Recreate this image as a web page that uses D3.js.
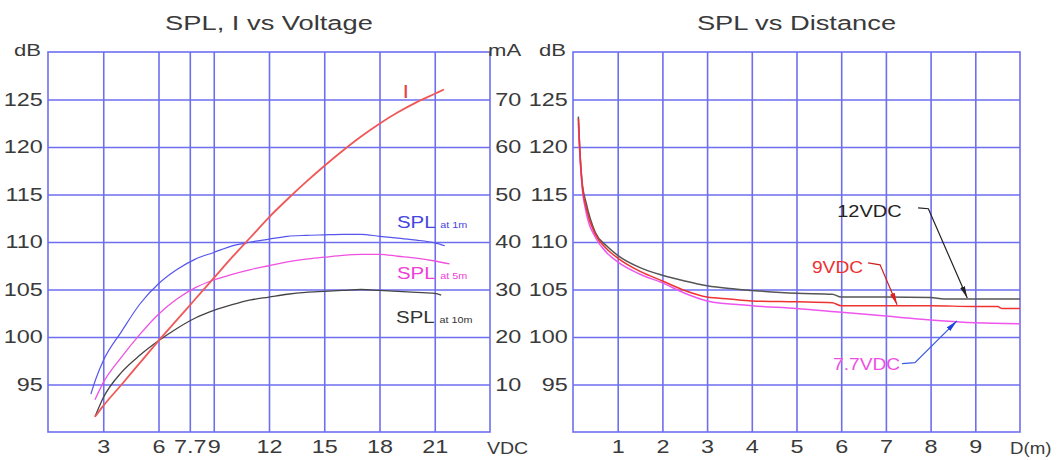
<!DOCTYPE html>
<html><head><meta charset="utf-8">
<script src="https://cdn.jsdelivr.net/npm/d3@7"></script>
<style>
body{margin:0;background:#fff;}
svg{display:block;}
text{font-family:"Liberation Sans",Arial,sans-serif;}
</style></head><body>
<svg id="c" width="1063" height="460"></svg>
<script>
// ---------- data ----------
const voltTicks = [3, 6, 7.7, 9, 12, 15, 18, 21];
const dbTicks = [95, 100, 105, 110, 115, 120, 125];
const maTicks = [10, 20, 30, 40, 50, 60, 70];
const distTicks = [1, 2, 3, 4, 5, 6, 7, 8, 9];

// SPL vs Voltage (V, dB)
const spl1m = [[2.33,94],[2.6,95.6],[3,97.5],[4,100.6],[5,103.5],[6,105.6],[7,107.1],[8,108.2],[9,108.9],[10,109.6],[11,110],[12,110.3],[13,110.6],[14,110.7],[15,110.75],[16,110.8],[17,110.8],[18,110.6],[19,110.4],[20,110.2],[21,109.9],[21.55,109.6]];
const spl5m = [[2.55,93.4],[3,95.2],[4,97.9],[5,100.3],[6,102.4],[7,104.0],[8,105.2],[9,106.0],[10,106.6],[11,107.1],[12,107.5],[13,107.9],[14,108.2],[15,108.4],[16,108.6],[17,108.7],[18,108.7],[19,108.5],[20,108.3],[21,108.0],[21.8,107.7]];
const spl10m = [[2.55,91.6],[3,93.6],[4,96.3],[5,98.1],[6,99.6],[7,100.9],[8,102],[9,102.8],[10,103.4],[11,103.9],[12,104.2],[13,104.5],[14,104.7],[15,104.8],[16,104.9],[17,105],[18,104.9],[19,104.8],[20,104.7],[21,104.6],[21.35,104.4]];
// Current vs Voltage (V, mA)
const currentMA = [[2.55,3.2],[3,5.5],[4,10],[5,14.6],[6,19.2],[7,23.6],[8,28],[9,32.4],[10,36.8],[11,41],[12,45.2],[13,49],[14,52.6],[15,56],[16,59.2],[17,62.2],[18,64.9],[19,67.3],[20,69.4],[21,71.2],[21.5,72.1]];

// SPL vs Distance (m, dB)
const dist12V = [[0.12,123.2],[0.15,120],[0.2,116.5],[0.3,114],[0.5,111],[0.75,109.6],[1,108.6],[1.5,107.3],[2,106.5],[2.5,105.9],[3,105.4],[3.5,105.1],[4,104.9],[5,104.6],[5.8,104.5],[6,104.2],[7,104.2],[8,104.15],[8.3,104],[9,104],[10,104]];
const dist9V = [[0.12,123],[0.15,119.8],[0.2,116.3],[0.3,113.5],[0.5,110.8],[0.75,109.3],[1,108.3],[1.5,106.9],[2,105.9],[2.5,104.9],[3,104.2],[3.5,104],[4,103.8],[5,103.7],[5.8,103.6],[6,103.3],[7,103.3],[8,103.3],[9,103.2],[9.5,103.2],[9.6,103],[10,103]];
const dist77V = [[0.12,122.5],[0.15,119.5],[0.2,116],[0.3,113],[0.5,110.5],[0.75,108.9],[1,107.9],[1.5,106.6],[2,105.7],[2.5,104.6],[3,103.8],[4,103.3],[5,103],[6,102.6],[7,102.2],[8,101.8],[9,101.5],[10,101.4]];

// ---------- layout ----------
const SX = 1.3;           // horizontal text stretch of the reference
const GRID = "#6e6ef0";
const TXT = "#3a3a3a";
const svg = d3.select("#c");

const xV = d3.scaleLinear([0, 24], [48, 490]);
const yL = d3.scaleLinear([90, 130], [432, 52]);
const yMA = d3.scaleLinear([0, 80], [432, 52]);
const xD = d3.scaleLinear([0, 10], [573, 1020]);
const yR = d3.scaleLinear([90, 130], [432, 52]);

function txt(x, y, s, o = {}) {
  const t = svg.append("text")
    .attr("transform", `translate(${x},${y}) scale(${o.sx || SX},1)`)
    .attr("text-anchor", o.anchor || "start")
    .style("font-size", (o.size || 18) + "px")
    .attr("fill", o.fill || TXT)
    .text(s);
  return t;
}

function styleAxis(g) {
  g.select(".domain").remove();
  g.selectAll(".tick line").attr("stroke", GRID).attr("stroke-width", 1.6);
  g.selectAll(".tick text").attr("fill", TXT)
    .style("font-size", "18px")
    .attr("transform", `scale(${SX},1)`);
}

function panel(x, y, xticks, xfmt) {
  const [x0, x1] = x.range();
  const [y0, y1] = y.range(); // y0 bottom
  const h = y0 - y1, w = x1 - x0;
  svg.append("g").attr("transform", `translate(0,${y0})`)
    .call(d3.axisBottom(x).tickValues(xticks).tickSize(-h).tickPadding(8).tickFormat(xfmt))
    .call(styleAxis);
  svg.append("g").attr("transform", `translate(${x0},0)`)
    .call(d3.axisLeft(y).tickValues(dbTicks).tickSize(-w).tickPadding(4))
    .call(styleAxis);
  svg.append("rect").attr("x", x0).attr("y", y1).attr("width", w).attr("height", h)
    .attr("fill", "none").attr("stroke", GRID).attr("stroke-width", 1.6);
}

// left panel
panel(xV, yL, voltTicks, d => String(d));
// right mA axis labels
svg.append("g").attr("transform", `translate(${xV.range()[1]},0)`)
  .call(d3.axisRight(yMA).tickValues(maTicks).tickSize(0).tickPadding(4))
  .call(styleAxis);
// right panel
panel(xD, yR, distTicks, d => String(d));

// titles and unit labels
txt((xV.range()[0] + xV.range()[1]) / 2, 30, "SPL, I vs Voltage", {size: 21, anchor: "middle"});
txt((xD.range()[0] + xD.range()[1]) / 2, 30, "SPL vs Distance", {size: 21, anchor: "middle"});
txt(xV.range()[0] - 7, 56, "dB", {anchor: "end", size: 17});
txt(xV.range()[1] - 2, 56, "mA", {size: 17});
txt(xD.range()[0] - 7, 56, "dB", {anchor: "end", size: 17});
txt(xV.range()[1] - 3, 454, "VDC", {size: 17, sx: 1.15});
txt(xD.range()[1] - 10, 454, "D(m)", {size: 17, sx: 1.1});

// curves
const lineV = d3.line().x(d => xV(d[0])).y(d => yL(d[1])).curve(d3.curveMonotoneX);
const lineI = d3.line().x(d => xV(d[0])).y(d => yMA(d[1])).curve(d3.curveMonotoneX);
const lineD = d3.line().x(d => xD(d[0])).y(d => yR(d[1])).curve(d3.curveMonotoneX);

function path(data, gen, color, w) {
  svg.append("path").datum(data).attr("d", gen).attr("fill", "none")
    .attr("stroke", color).attr("stroke-width", w).attr("stroke-linejoin", "round");
}
path(spl1m, lineV, "#5555ee", 1.2);
path(spl5m, lineV, "#f050e0", 1.3);
path(spl10m, lineV, "#444444", 1.3);
path(currentMA, lineI, "#f05858", 1.8);

path(dist12V, lineD, "#555555", 1.5);
path(dist77V, lineD, "#ee55ee", 1.5);
path(dist9V, lineD, "#ee3333", 1.5);

// left-panel labels
txt(xV(19.25), yL(125.2), "I", {fill: "#e04848", size: 18});
function splLabel(v, db, sub, color) {
  const t = txt(xV(v), yL(db), "SPL", {fill: color, size: 17, sx: 1.2});
  t.append("tspan").attr("dx", 4).style("font-size", "9px").text(sub);
}
splLabel(18.95, 111.5, "at 1m", "#4545e0");
splLabel(18.95, 106.1, "at 5m", "#f040d8");
splLabel(18.9, 101.5, "at 10m", "#333333");

// right-panel annotations (data coords)
const defs = svg.append("defs");
function marker(id, color) {
  defs.append("marker").attr("id", id).attr("viewBox", "0 0 12 6")
    .attr("refX", 12).attr("refY", 3).attr("markerWidth", 12).attr("markerHeight", 6)
    .attr("markerUnits", "userSpaceOnUse").attr("orient", "auto")
    .append("path").attr("d", "M0,0.5 L12,3 L0,5.5 Z").attr("fill", color);
}
marker("mk", "#222"); marker("mr", "#e02020"); marker("mb", "#2040e0");
const ann = d3.line().x(d => xD(d[0])).y(d => yR(d[1]));
function leader(pts, color, mk) {
  svg.append("path").datum(pts).attr("d", ann).attr("fill", "none")
    .attr("stroke", color).attr("stroke-width", 1.2).attr("marker-end", `url(#${mk})`);
}
txt(xD(5.91), yR(112.6), "12VDC", {size: 16, sx: 1.25, fill: "#222"});
leader([[7.72, 113.6], [7.95, 113.5], [8.82, 104.1]], "#222", "mk");
txt(xD(6.49), yR(106.7), "9VDC", {size: 16, sx: 1.2, fill: "#ee3030", anchor: "end"});
leader([[6.6, 107.8], [6.87, 107.6], [7.25, 103.4]], "#d02020", "mr");
txt(xD(7.32), yR(96.5), "7.7VDC", {size: 16, sx: 1.2, fill: "#ee50e6", anchor: "end"});
leader([[7.36, 97.2], [7.65, 97.3], [8.59, 101.7]], "#3a5ae0", "mb");
</script>
</body></html>
